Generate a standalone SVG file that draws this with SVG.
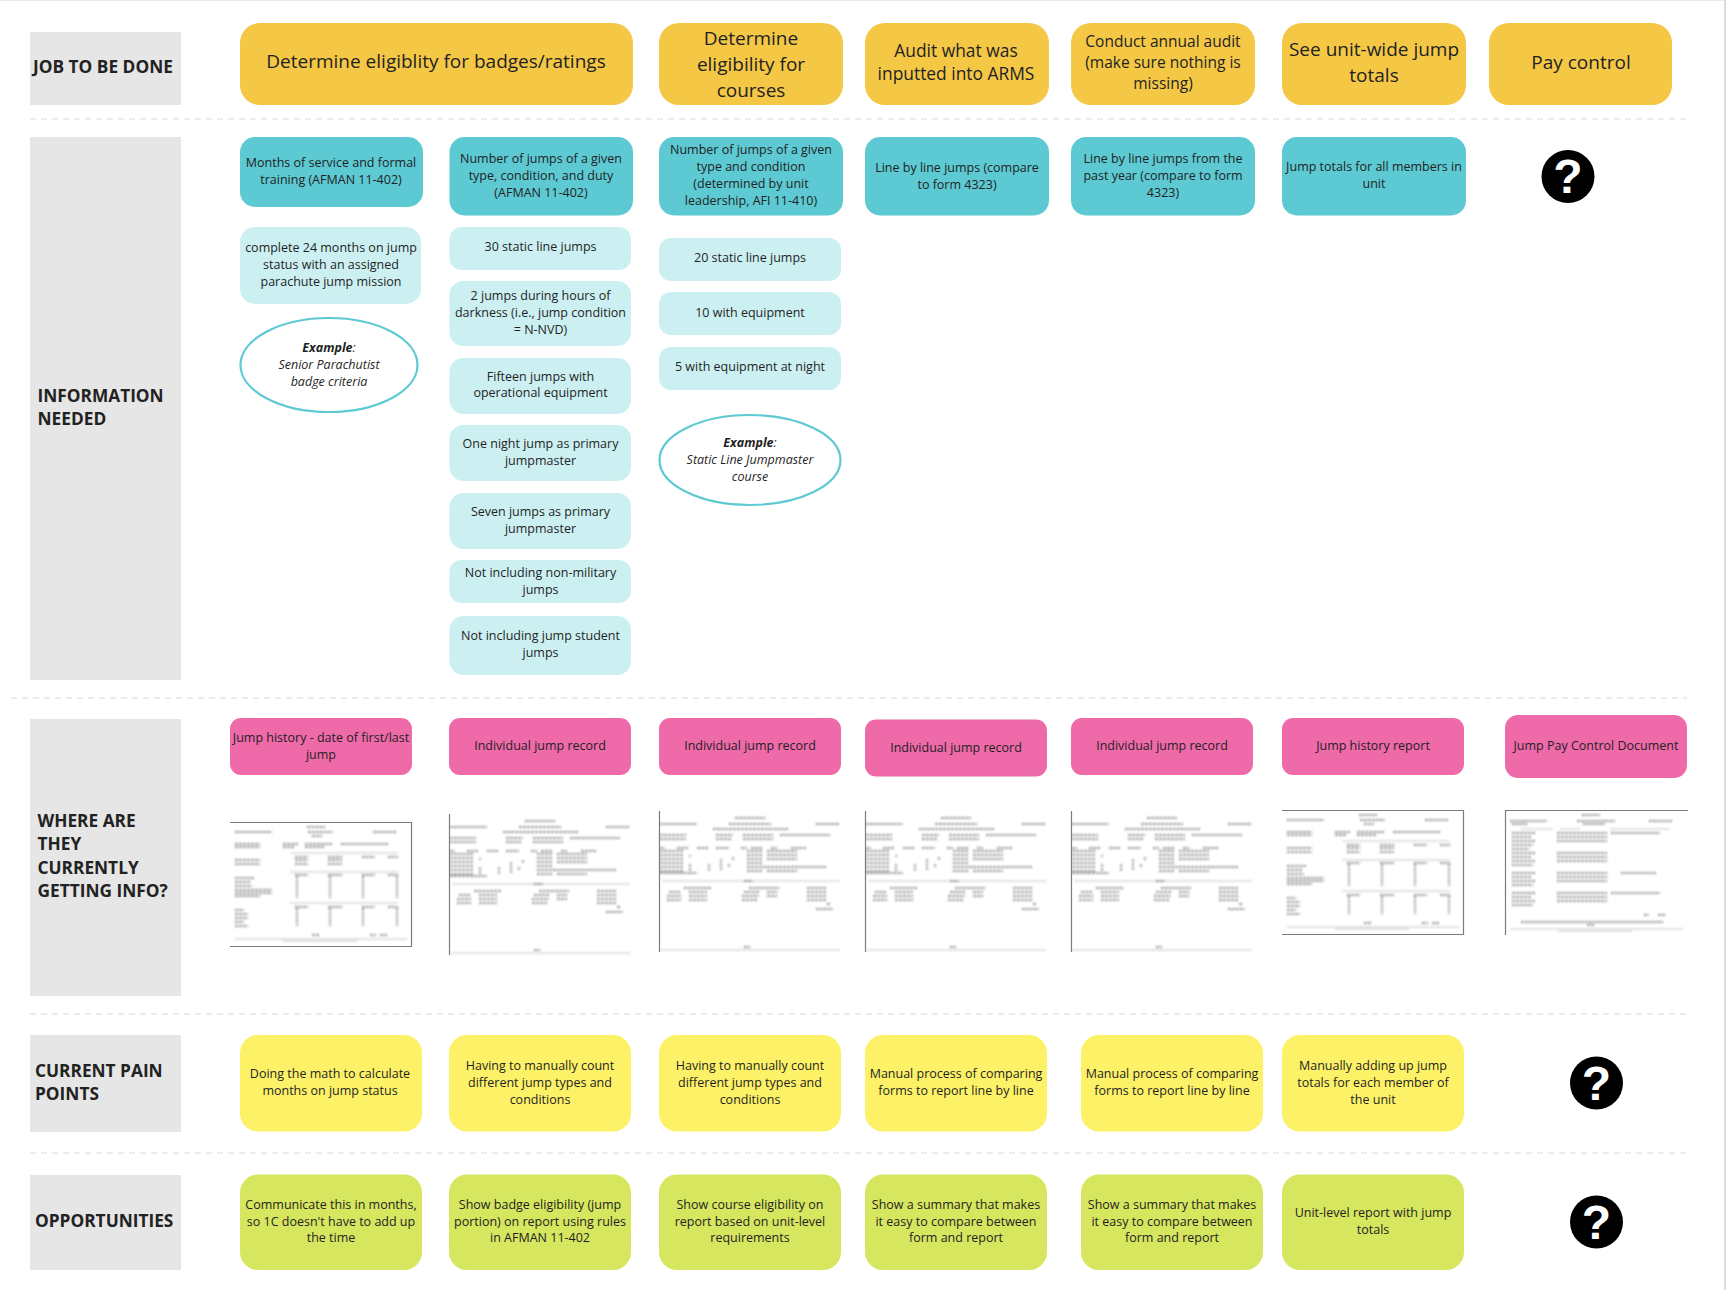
<svg xmlns="http://www.w3.org/2000/svg" width="1726" height="1290" viewBox="0 0 1726 1290">
<style>
text{font-family:"Open Sans","Noto Sans","Liberation Sans",sans-serif;fill:#1f1f24;text-anchor:middle;font-size:12.5px}
.lab{fill:#e6e6e6}
.labt{font-weight:700;font-size:17.3px;text-anchor:start;fill:#222}
.gold{fill:#f4c745}.teal{fill:#5dc9d2}.light{fill:#ccf0f2}.pink{fill:#ee6aa9}.yel{fill:#fdf267}.grn{fill:#d6e65f}
.g1{font-size:19px}.g2{font-size:17.4px}.g3{font-size:15.5px}
.ex{fill:#fff;stroke:#5dc9d2;stroke-width:2.2}
.it{font-style:italic}.bi{font-style:italic;font-weight:700}
.sep{stroke:#e6e6e6;stroke-width:1.5;stroke-dasharray:6 5;fill:none}
.qt{font-family:"Liberation Sans",Arial,sans-serif;font-weight:700;font-size:48px;fill:#fff}
.ink{fill:none;stroke:#7a7a7a;stroke-width:1.3;stroke-dasharray:3 1}
.ink2{fill:none;stroke:#b5b5b5;stroke-width:.8}
.frame{fill:none;stroke:#7c7c7c;stroke-width:1.2}
</style>
<defs>
<filter id="blur" filterUnits="userSpaceOnUse" x="-5" y="-5" width="195" height="155"><feGaussianBlur stdDeviation="0.85"/></filter>
<symbol id="doc-record" overflow="visible" width="182" height="141" viewBox="0 0 182 141">
<path class="frame" d="M.5 0V141"/>
<g filter="url(#blur)">
<path class="ink" d="M76 7H106M1 13H38M70 13H112M157 13H181M54 18H129M1 24H27M57 24H74M84 24H114M121 24H171M1 28H27M57 28H72M84 28H114M1 37H6M18 37H30M38 37H50M57 37H70M82 37H88M92 37H104M112 37H118M132 37H148"/>
<path class="ink" d="M1 40H24M1 44H24M1 48H24M1 52H24M1 56H24M1 60H24M88 40H104M88 44H104M88 48H104M88 52H104M88 56H125M88 60H104M108 40H138M108 44H138M108 48H138M108 56H168M108 60H138M31 44V46M31 53V60M50 53V60M62 48V60M70 53V56M74 46V50"/>
<path class="ink" d="M1 62H38"/>
<path class="ink2" d="M3 70H181"/>
<path class="ink" d="M85 70H94M25 77H52M90 77H120M148 77H168M10 81H22M30 81H48M85 81H100M108 81H118M148 81H168M8 85H22M30 85H48M83 85H100M108 85H118M148 85H168M8 89H22M30 89H48M83 89H98M148 89H168M168 93H171M157 98H174"/>
<path class="ink" d="M85 136H91"/>
<path class="ink2" d="M1 139H181"/>
</g>
</symbol>
<symbol id="doc-history" overflow="visible" width="182" height="125" viewBox="0 0 182 125">
<g filter="url(#blur)">
<path class="ink" d="M77 5H95M5 10H42M78 10H103M143 10H167M82 14H92M5 22H30M53 22H68M75 22H103M111 22H158M5 25H30M53 25H65M75 25H95"/>
<path class="ink2" d="M60 31H168M60 50H168M60 81H168"/>
<path class="ink" d="M65 35H78M98 35H112M132 35H145M158 35H168M5 38H30M65 38H78M98 38H112M5 42H30M65 42H78M98 42H112"/>
<path class="ink" d="M65 53H78M98 53H112M132 53H145M158 53H168M5 56H25M5 60H20M5 64H22M5 68H42M5 71H42M5 74H30M67 54V76M100 54V76M133 54V76M167 54V76"/>
<path class="ink" d="M65 85H78M98 85H112M132 85H145M158 85H168M5 88H14M5 92H18M5 96H18M5 100H14M5 104H18M67 86V104M100 86V104M133 86V104M167 86V104"/>
<path class="ink" d="M82 113H90M140 113H146M150 113H158"/>
<path class="ink2" d="M5 117H177M53 119H127"/>
</g>
<path class="frame" d="M0 .5H181.5V124.5H0"/>
</symbol>
<symbol id="doc-pay" overflow="visible" width="183" height="125" viewBox="0 0 183 125">
<path class="frame" d="M.5 125V.5H183"/>
<g filter="url(#blur)">
<path class="ink" d="M77 5H95M5 11H42M72 11H110M144 11H168M7 14H22M78 14H100"/>
<path class="ink2" d="M15 19H48M55 19H75M105 19H165"/>
<path class="ink" d="M7 23H30M52 23H102M106 23H155M7 27H26M52 27H102M7 31H30M52 31H102M7 35H28M7 39H24"/>
<path class="ink" d="M7 43H30M52 43H102M7 47H26M52 47H102M7 51H30M52 51H102M7 55H28"/>
<path class="ink" d="M7 63H30M52 63H102M116 63H152M7 67H26M52 67H102M7 71H30M52 71H102M7 75H28"/>
<path class="ink" d="M7 83H30M52 83H102M106 83H155M7 87H26M52 87H102M7 91H30M52 91H102M7 95H28"/>
<path class="ink" d="M139 105H144M153 105H160M16 112H158M82 115H90"/>
<path class="ink2" d="M5 119H178M53 121H127"/>
</g>
</symbol>
</defs>
<rect width="1726" height="1290" fill="#fff"/>
<path d="M0 .5H1726" stroke="#e8e8e8" stroke-width="1"/>
<path d="M1725 0V1290" stroke="#dcdcdc" stroke-width="2"/>

<g id="separators">
<path class="sep" d="M30 119H1687"/>
<path class="sep" d="M11 698H1687"/>
<path class="sep" d="M30 1014H1687"/>
<path class="sep" d="M30 1153H1688"/>
</g>

<g id="row-labels">
<g id="label-job"><rect class="lab" x="30" y="32" width="151" height="73"/><text class="labt" x="33" y="73">JOB TO BE DONE</text></g>
<g id="label-info"><rect class="lab" x="30" y="137" width="151" height="543"/><text class="labt" x="37.500" y="402">INFORMATION</text><text class="labt" x="37.500" y="425">NEEDED</text></g>
<g id="label-where"><rect class="lab" x="30" y="719" width="151" height="277"/><text class="labt" x="37.500" y="826.500">WHERE ARE</text><text class="labt" x="37.500" y="850">THEY</text><text class="labt" x="37.500" y="874">CURRENTLY</text><text class="labt" x="37.500" y="897">GETTING INFO?</text></g>
<g id="label-pain"><rect class="lab" x="30" y="1035" width="151" height="97"/><text class="labt" x="35" y="1076.500">CURRENT PAIN</text><text class="labt" x="35" y="1099.500">POINTS</text></g>
<g id="label-opp"><rect class="lab" x="30" y="1175" width="151" height="95"/><text class="labt" x="35" y="1226.500">OPPORTUNITIES</text></g>
</g>

<g id="job-1"><rect class="gold" x="240" y="23" width="393" height="82" rx="20"/><text class="g1" x="436" y="68">Determine eligiblity for badges/ratings</text></g>
<g id="job-2"><rect class="gold" x="659" y="23" width="184" height="82" rx="20"/><text class="g1" x="751" y="44.500">Determine</text><text class="g1" x="751" y="70.500">eligibility for</text><text class="g1" x="751" y="96.500">courses</text></g>
<g id="job-3"><rect class="gold" x="865" y="23" width="184" height="82" rx="20"/><text class="g2" x="956" y="57">Audit what was</text><text class="g2" x="956" y="80">inputted into ARMS</text></g>
<g id="job-4"><rect class="gold" x="1071" y="23" width="184" height="82" rx="20"/><text class="g3" x="1163" y="47">Conduct annual audit</text><text class="g3" x="1163" y="68">(make sure nothing is</text><text class="g3" x="1163" y="89">missing)</text></g>
<g id="job-5"><rect class="gold" x="1282" y="23" width="184" height="82" rx="20"/><text class="g1" x="1374" y="56">See unit-wide jump</text><text class="g1" x="1374" y="81.500">totals</text></g>
<g id="job-6"><rect class="gold" x="1489" y="23" width="183" height="82" rx="20"/><text class="g1" x="1581" y="68.500">Pay control</text></g>

<g id="info-a"><rect class="teal" x="240" y="137" width="183" height="70" rx="15"/><text x="331" y="167">Months of service and formal</text><text x="331" y="184">training (AFMAN 11-402)</text></g>
<g id="info-b"><rect class="teal" x="449.500" y="137" width="183.500" height="78.500" rx="15"/><text x="541" y="163">Number of jumps of a given</text><text x="541" y="180">type, condition, and duty</text><text x="541" y="197">(AFMAN 11-402)</text></g>
<g id="info-c"><rect class="teal" x="659" y="137" width="184" height="78.500" rx="15"/><text x="751" y="154">Number of jumps of a given</text><text x="751" y="171">type and condition</text><text x="751" y="188">(determined by unit</text><text x="751" y="205">leadership, AFI 11-410)</text></g>
<g id="info-d"><rect class="teal" x="865" y="137" width="184" height="78.500" rx="15"/><text x="957" y="171.500">Line by line jumps (compare</text><text x="957" y="188.500">to form 4323)</text></g>
<g id="info-e"><rect class="teal" x="1071" y="137" width="184" height="78.500" rx="15"/><text x="1163" y="163">Line by line jumps from the</text><text x="1163" y="180">past year (compare to form</text><text x="1163" y="197">4323)</text></g>
<g id="info-f"><rect class="teal" x="1282" y="137" width="184" height="78.500" rx="15"/><text x="1374" y="171">Jump totals for all members in</text><text x="1374" y="188">unit</text></g>
<g id="info-g"><circle cx="1568" cy="176.500" r="26.500"/><text class="qt" x="1568" y="193">?</text></g>

<g id="a-1"><rect class="light" x="240" y="227" width="181" height="77" rx="15"/><text x="331" y="252">complete 24 months on jump</text><text x="331" y="269">status with an assigned</text><text x="331" y="286">parachute jump mission</text></g>
<g id="a-example"><ellipse class="ex" cx="329" cy="365" rx="88.500" ry="47"/><text class="it" x="329" y="352"><tspan class="bi">Example</tspan>:</text><text class="it" x="329" y="369">Senior Parachutist</text><text class="it" x="329" y="386">badge criteria</text></g>

<g id="b-1"><rect class="light" x="449.500" y="227" width="181.500" height="43" rx="12"/><text x="540.500" y="251">30 static line jumps</text></g>
<g id="b-2"><rect class="light" x="449.500" y="281" width="181.500" height="65" rx="14"/><text x="540.500" y="300">2 jumps during hours of</text><text x="540.500" y="317">darkness (i.e., jump condition</text><text x="540.500" y="334">= N-NVD)</text></g>
<g id="b-3"><rect class="light" x="449.500" y="358" width="181.500" height="56" rx="14"/><text x="540.500" y="381">Fifteen jumps with</text><text x="540.500" y="397">operational equipment</text></g>
<g id="b-4"><rect class="light" x="449.500" y="425" width="181.500" height="56" rx="14"/><text x="540.500" y="448">One night jump as primary</text><text x="540.500" y="465">jumpmaster</text></g>
<g id="b-5"><rect class="light" x="449.500" y="493" width="181.500" height="56" rx="14"/><text x="540.500" y="516">Seven jumps as primary</text><text x="540.500" y="533">jumpmaster</text></g>
<g id="b-6"><rect class="light" x="449.500" y="560" width="181.500" height="43" rx="12"/><text x="540.500" y="576.500">Not including non-military</text><text x="540.500" y="593.500">jumps</text></g>
<g id="b-7"><rect class="light" x="449.500" y="616" width="181.500" height="59" rx="14"/><text x="540.500" y="639.500">Not including jump student</text><text x="540.500" y="656.500">jumps</text></g>

<g id="c-1"><rect class="light" x="659" y="238" width="182" height="43" rx="12"/><text x="750" y="262">20 static line jumps</text></g>
<g id="c-2"><rect class="light" x="659" y="292" width="182" height="43" rx="12"/><text x="750" y="317">10 with equipment</text></g>
<g id="c-3"><rect class="light" x="659" y="347" width="182" height="43" rx="12"/><text x="750" y="371">5 with equipment at night</text></g>
<g id="c-example"><ellipse class="ex" cx="750" cy="460" rx="90.500" ry="45"/><text class="it" x="750" y="446.500"><tspan class="bi">Example</tspan>:</text><text class="it" x="750" y="463.500">Static Line Jumpmaster</text><text class="it" x="750" y="481">course</text></g>

<g id="src-a"><rect class="pink" x="230" y="718" width="182" height="57" rx="11"/><text x="321" y="741.500">Jump history - date of first/last</text><text x="321" y="759">jump</text><use href="#doc-history" x="230" y="822"/></g>
<g id="src-b"><rect class="pink" x="449" y="718" width="182" height="57" rx="11"/><text x="540" y="750">Individual jump record</text><use href="#doc-record" x="449" y="814"/></g>
<g id="src-c"><rect class="pink" x="659" y="718" width="182" height="57" rx="11"/><text x="750" y="750">Individual jump record</text><use href="#doc-record" x="659" y="811"/></g>
<g id="src-d"><rect class="pink" x="865" y="719.500" width="182" height="57" rx="11"/><text x="956" y="751.500">Individual jump record</text><use href="#doc-record" x="865" y="811"/></g>
<g id="src-e"><rect class="pink" x="1071" y="718" width="182" height="57" rx="11"/><text x="1162" y="750">Individual jump record</text><use href="#doc-record" x="1071" y="811"/></g>
<g id="src-f"><rect class="pink" x="1282" y="718" width="182" height="57" rx="11"/><text x="1373" y="750">Jump history report</text><use href="#doc-history" x="1282" y="810"/></g>
<g id="src-g"><rect class="pink" x="1505" y="715" width="182" height="63" rx="13"/><text x="1596" y="750">Jump Pay Control Document</text><use href="#doc-pay" x="1505" y="810"/></g>

<g id="pain-a"><rect class="yel" x="240" y="1035" width="182" height="96.500" rx="18"/><text x="330" y="1077.500">Doing the math to calculate</text><text x="330" y="1094.500">months on jump status</text></g>
<g id="pain-b"><rect class="yel" x="449" y="1035" width="182" height="96.500" rx="18"/><text x="540" y="1070">Having to manually count</text><text x="540" y="1087">different jump types and</text><text x="540" y="1103.500">conditions</text></g>
<g id="pain-c"><rect class="yel" x="659" y="1035" width="182" height="96.500" rx="18"/><text x="750" y="1070">Having to manually count</text><text x="750" y="1087">different jump types and</text><text x="750" y="1103.500">conditions</text></g>
<g id="pain-d"><rect class="yel" x="865" y="1035" width="182" height="96.500" rx="18"/><text x="956" y="1077.500">Manual process of comparing</text><text x="956" y="1094.500">forms to report line by line</text></g>
<g id="pain-e"><rect class="yel" x="1081" y="1035" width="182" height="96.500" rx="18"/><text x="1172" y="1077.500">Manual process of comparing</text><text x="1172" y="1094.500">forms to report line by line</text></g>
<g id="pain-f"><rect class="yel" x="1282" y="1035" width="182" height="96.500" rx="18"/><text x="1373" y="1070">Manually adding up jump</text><text x="1373" y="1087">totals for each member of</text><text x="1373" y="1103.500">the unit</text></g>
<g id="pain-g"><circle cx="1596.500" cy="1083" r="26.500"/><text class="qt" x="1596.500" y="1100">?</text></g>

<g id="opp-a"><rect class="grn" x="240" y="1174.500" width="182" height="95.500" rx="18"/><text x="331" y="1208.500">Communicate this in months,</text><text x="331" y="1225.500">so 1C doesn't have to add up</text><text x="331" y="1242">the time</text></g>
<g id="opp-b"><rect class="grn" x="449" y="1174.500" width="182" height="95.500" rx="18"/><text x="540" y="1208.500">Show badge eligibility (jump</text><text x="540" y="1225.500">portion) on report using rules</text><text x="540" y="1242">in AFMAN 11-402</text></g>
<g id="opp-c"><rect class="grn" x="659" y="1174.500" width="182" height="95.500" rx="18"/><text x="750" y="1208.500">Show course eligibility on</text><text x="750" y="1225.500">report based on unit-level</text><text x="750" y="1242">requirements</text></g>
<g id="opp-d"><rect class="grn" x="865" y="1174.500" width="182" height="95.500" rx="18"/><text x="956" y="1208.500">Show a summary that makes</text><text x="956" y="1225.500">it easy to compare between</text><text x="956" y="1242">form and report</text></g>
<g id="opp-e"><rect class="grn" x="1081" y="1174.500" width="182" height="95.500" rx="18"/><text x="1172" y="1208.500">Show a summary that makes</text><text x="1172" y="1225.500">it easy to compare between</text><text x="1172" y="1242">form and report</text></g>
<g id="opp-f"><rect class="grn" x="1282" y="1174.500" width="182" height="95.500" rx="18"/><text x="1373" y="1216.500">Unit-level report with jump</text><text x="1373" y="1234">totals</text></g>
<g id="opp-g"><circle cx="1596.500" cy="1222" r="26.500"/><text class="qt" x="1596.500" y="1239">?</text></g>
</svg>
